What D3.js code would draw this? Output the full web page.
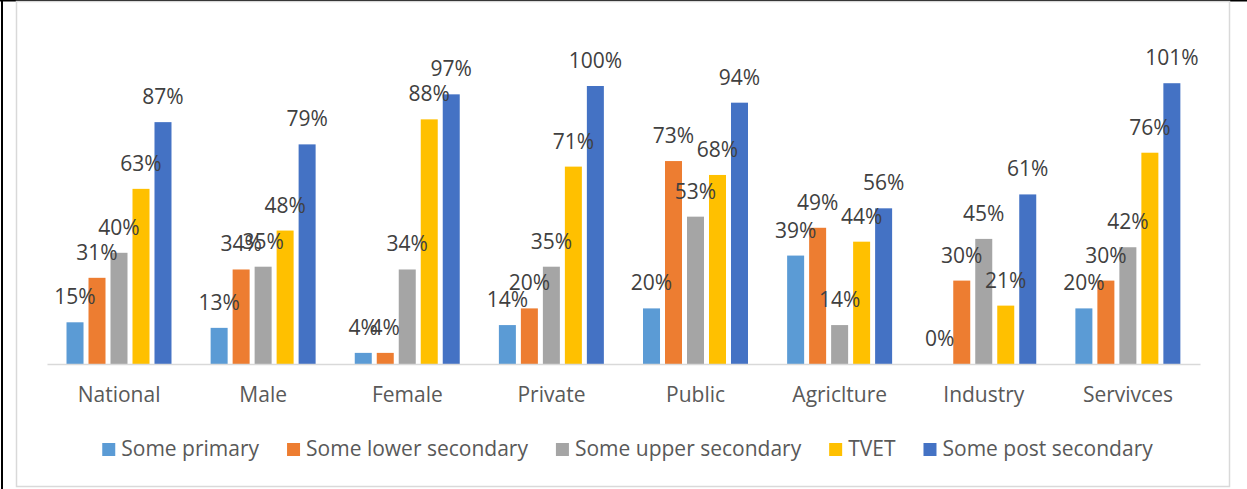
<!DOCTYPE html>
<html>
<head>
<meta charset="utf-8">
<script src="https://cdn.jsdelivr.net/npm/d3@7"></script>
<style>
  html, body { margin: 0; padding: 0; background: #fff; }
  svg { display: block; font-family: 'Open Sans', sans-serif; }
</style>
</head>
<body>
<div id="chart"></div>
<script>
const categories = ['National', 'Male', 'Female', 'Private', 'Public', 'Agriclture', 'Industry', 'Servivces'];
const seriesNames = ['Some primary', 'Some lower secondary', 'Some upper secondary', 'TVET', 'Some post secondary'];
const somePrimary = [15, 13, 4, 14, 20, 39, 0, 20];
const someLowerSecondary = [31, 34, 4, 20, 73, 49, 30, 30];
const someUpperSecondary = [40, 35, 34, 35, 53, 14, 45, 42];
const tvet = [63, 48, 88, 71, 68, 44, 21, 76];
const somePostSecondary = [87, 79, 97, 100, 94, 56, 61, 101];
const seriesColors = ['#5B9BD5', '#ED7D31', '#A5A5A5', '#FFC000', '#4472C4'];

const seriesValues = [somePrimary, someLowerSecondary, someUpperSecondary, tvet, somePostSecondary];

const WIDTH = 1247, HEIGHT = 489;
const PLOT_LEFT = 47, PLOT_RIGHT = 1200, BASELINE = 364;

const svg = d3.select('#chart').append('svg')
  .attr('width', WIDTH)
  .attr('height', HEIGHT);

// outer table border (black) and chart frame
svg.append('rect').attr('x', 1).attr('y', 0).attr('width', 2).attr('height', HEIGHT).attr('fill', '#000');
svg.append('rect').attr('x', 0).attr('y', 0).attr('width', WIDTH).attr('height', 1.5).attr('fill', '#000');
svg.append('rect')
  .attr('x', 16.5).attr('y', 1.5)
  .attr('width', 1213).attr('height', 485)
  .attr('fill', '#fff')
  .attr('stroke', '#d9d9d9')
  .attr('stroke-width', 1.5);

const x0 = d3.scaleBand()
  .domain(categories)
  .range([PLOT_LEFT, PLOT_RIGHT]);

const x1 = d3.scaleBand()
  .domain(seriesNames)
  .range([17, 127])
  .paddingInner(0.227)
  .paddingOuter(0.114);

const y = d3.scaleLinear()
  .domain([0, 120])
  .range([BASELINE, BASELINE - 2.78 * 120]);

const rows = categories.map((c, i) => ({
  category: c,
  values: seriesNames.map((s, j) => ({ series: s, value: seriesValues[j][i], color: seriesColors[j] }))
}));

const groups = svg.append('g').attr('class', 'bars')
  .selectAll('.data-group')
  .data(rows)
  .enter()
  .append('g')
  .attr('class', 'data-group')
  .attr('transform', (d) => 'translate(' + x0(d.category) + ',0)');

groups.selectAll('.bar')
  .data((d) => d.values)
  .enter()
  .append('rect')
  .attr('class', 'bar')
  .attr('x', (d) => x1(d.series))
  .attr('y', (d) => y(d.value))
  .attr('width', x1.bandwidth())
  .attr('height', (d) => Math.max(y(0) - y(d.value), 1))
  .attr('fill', (d) => d.color);

// category axis
const xAxis = svg.append('g')
  .attr('class', 'x axis')
  .attr('transform', 'translate(0,' + BASELINE + ')')
  .call(d3.axisBottom(x0).tickSize(0).tickPadding(0));

xAxis.select('.domain').attr('stroke', '#d9d9d9').attr('stroke-width', 1.5);
xAxis.selectAll('text')
  .attr('dy', null)
  .attr('y', 38)
  .attr('fill', '#595959')
  .style('font-family', "'Open Sans', sans-serif")
  .style('font-size', '21px');

// data labels drawn after axis so they sit on top
groups.selectAll('.label')
  .data((d) => d.values)
  .enter()
  .append('text')
  .attr('class', 'label')
  .attr('x', (d) => x1(d.series) + x1.bandwidth() / 2)
  .attr('y', (d) => y(d.value) - 18)
  .attr('text-anchor', 'middle')
  .attr('fill', '#404040')
  .style('font-size', '21px')
  .text((d) => d.value + '%');

// legend
const legend = svg.append('g').attr('class', 'legend');
const items = legend.selectAll('.legend-item')
  .data(seriesNames)
  .enter()
  .append('g')
  .attr('class', 'legend-item');

items.append('rect')
  .attr('width', 13)
  .attr('height', 13)
  .attr('y', 443)
  .attr('fill', (d, i) => seriesColors[i]);

items.append('text')
  .attr('x', 19)
  .attr('y', 456)
  .attr('fill', '#595959')
  .style('font-size', '21px')
  .text((d) => d);

let offset = 0;
const itemGap = 28;
items.each(function() {
  const g = d3.select(this);
  const w = 19 + g.select('text').node().getComputedTextLength();
  g.attr('transform', 'translate(' + offset + ',0)');
  offset += w + itemGap;
});
const totalWidth = offset - itemGap;
legend.attr('transform', 'translate(' + (627.5 - totalWidth / 2) + ',0)');
</script>
</body>
</html>
